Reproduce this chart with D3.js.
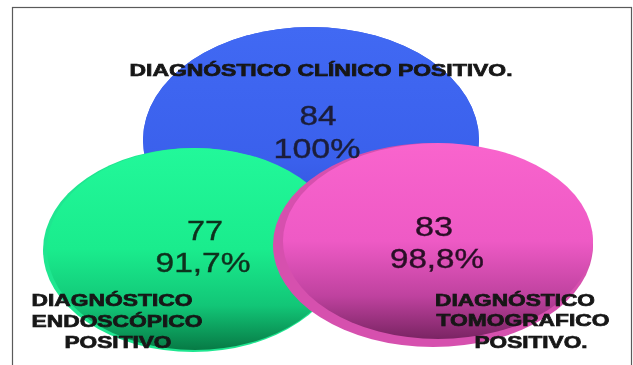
<!DOCTYPE html>
<html>
<head>
<meta charset="utf-8">
<script src="https://cdn.jsdelivr.net/npm/d3@7"></script>
<style>
  html, body { margin: 0; padding: 0; background: #fff; }
  svg { display: block; }
</style>
</head>
<body>
<svg id="chart" width="633" height="365"></svg>
<script>
// ---- data ----
const categories = [
  ["DIAGNÓSTICO", "CLÍNICO", "POSITIVO."],
  ["DIAGNÓSTICO", "ENDOSCÓPICO", "POSITIVO"],
  ["DIAGNÓSTICO", "TOMOGRAFICO", "POSITIVO."]
];
const counts = [84, 77, 83];
const percents = ["100%", "91,7%", "98,8%"];

// ---- layout (positions/sizes/styles, separate from data) ----
const W = 633, H = 365;
const svg = d3.select("#chart");

const x = d3.scaleLinear().domain([0, 1]).range([0, W]);
const y = d3.scaleLinear().domain([0, 1]).range([0, H]);

const shapes = [
  { cx: 311, cy: 140, rx: 168, ry: 113, rim: "#3459e6", stops: [[0, "#4169f3"], [0.6, "#3a60ec"], [1, "#2c4bcf"]], off: [0, 0] },
  { cx: 193, cy: 250, rx: 150, ry: 102, rim: "#1fe690", stops: [[0, "#22f89a"], [0.5, "#1aec8d"], [0.78, "#12c677"], [1, "#077a45"]], off: [2, -1] },
  { cx: 433, cy: 245, rx: 160, ry: 102, rim: "#d650ae", stops: [[0, "#f964cd"], [0.5, "#ee5ac5"], [0.78, "#bf429f"], [1, "#7a2463"]], off: [5, -4] }
];

const defs = svg.append("defs");
shapes.forEach((s, i) => {
  const g = defs.append("linearGradient").attr("id", "grad" + i)
    .attr("x1", 0).attr("y1", 0).attr("x2", 0).attr("y2", 1);
  s.stops.forEach(st => g.append("stop").attr("offset", st[0]).attr("stop-color", st[1]));
});
const blur = defs.append("filter").attr("id", "soft").attr("x", "-5%").attr("y", "-20%").attr("width", "110%").attr("height", "140%");
blur.append("feGaussianBlur").attr("stdDeviation", 0.5);

// frame
svg.append("rect")
  .attr("x", 12.5).attr("y", 7.5).attr("width", 619).attr("height", 420)
  .attr("fill", "none").attr("stroke", "#5a5a5a").attr("stroke-width", 1.2);

// ellipses
const groups = svg.selectAll("g.set").data(counts).join("g").attr("class", "set");
groups.append("ellipse")
  .attr("cx", (d, i) => x(shapes[i].cx / W))
  .attr("cy", (d, i) => y(shapes[i].cy / H))
  .attr("rx", (d, i) => shapes[i].rx)
  .attr("ry", (d, i) => shapes[i].ry)
  .attr("fill", (d, i) => shapes[i].rim);
groups.append("ellipse")
  .attr("cx", (d, i) => x(shapes[i].cx / W) + shapes[i].off[0])
  .attr("cy", (d, i) => y(shapes[i].cy / H) + shapes[i].off[1])
  .attr("rx", (d, i) => shapes[i].rx - Math.abs(shapes[i].off[0]))
  .attr("ry", (d, i) => shapes[i].ry - Math.abs(shapes[i].off[1]))
  .attr("fill", (d, i) => "url(#grad" + i + ")");

function stretched(parent, txt, cx, cy, width, size, weight, color, sw) {
  parent.append("text")
    .attr("x", cx - width / 2)
    .attr("y", cy)
    .attr("dy", "0.36em")
    .attr("textLength", width)
    .attr("lengthAdjust", "spacingAndGlyphs")
    .attr("font-family", "Liberation Sans, Arial, sans-serif")
    .attr("font-size", size)
    .attr("font-weight", weight)
    .attr("fill", color)
    .attr("stroke", color)
    .attr("stroke-width", sw)
    .attr("filter", "url(#soft)")
    .text(txt);
}

// counts and percents
const numPos = [
  { c: [318, 115, 37], p: [317, 148, 87] },
  { c: [205, 230, 36], p: [203, 262, 95] },
  { c: [434, 226, 38], p: [437, 258, 94] }
];
const numColor = ["#1b1f3a", "#10301f", "#2a0f26"];
counts.forEach((c, i) => {
  const np = numPos[i];
  stretched(svg, String(c), np.c[0], np.c[1], np.c[2], 27, 400, numColor[i], 0.4);
  stretched(svg, percents[i], np.p[0], np.p[1], np.p[2], 27, 400, numColor[i], 0.4);
});

// category labels
stretched(svg, categories[0].join(" "), 321, 70, 383, 17, 700, "#151515", 0.7);
const labelPos = [
  null,
  [[112, 300, 161], [117, 321, 171], [118, 342, 107]],
  [[515, 300, 160], [523, 320, 173], [531, 342, 113]]
];
[1, 2].forEach(i => {
  categories[i].forEach((line, j) => {
    const lp = labelPos[i][j];
    stretched(svg, line, lp[0], lp[1], lp[2], 17, 700, "#151515", 0.7);
  });
});
</script>
</body>
</html>
